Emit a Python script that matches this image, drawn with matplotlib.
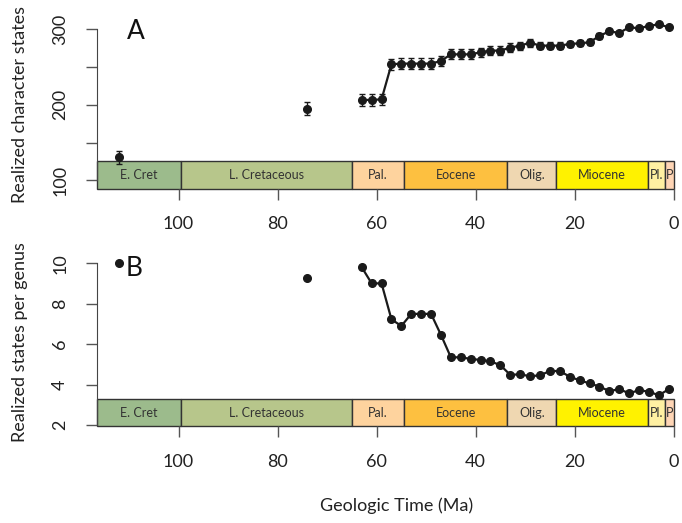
import matplotlib
matplotlib.use("Agg")
import matplotlib.pyplot as plt

plt.rcParams["font.family"] = ["Lato", "DejaVu Sans"]

# --- data --- #
ages = [63, 61, 59, 57, 55, 53, 51, 49, 47, 45, 43, 41, 39, 37, 35, 33,
        31, 29, 27, 25, 23, 21, 19, 17, 15, 13, 11, 9, 7, 5, 3, 1]

states = [206.4, 206.4, 207.2, 253.6, 254.5, 254.5, 254.5, 254.5, 258.0, 266.8,
          266.8, 266.8, 269.5, 271.7, 271.7, 275.7, 278.3, 282.3, 278.3, 278.3,
          278.3, 280.5, 281.4, 282.7, 291.1, 297.3, 295.1, 302.6, 301.3, 304.4,
          306.6, 302.6]
states_err = [7.7, 7.6, 7.5, 7.3, 7.2, 7.0, 6.9, 6.8, 6.7, 6.6, 6.5, 6.4, 6.2, 6.0,
              5.8, 5.6, 5.4, 5.2, 5.0, 4.8, 4.6, 4.4, 4.2, 4.0, 3.6, 3.2, 2.8, 2.4,
              2.0, 1.6, 1.2, 0.8]

per_genus = [9.81, 9.01, 9.01, 7.23, 6.90, 7.50, 7.50, 7.50, 6.46, 5.35, 5.35, 5.27,
             5.22, 5.15, 4.96, 4.48, 4.51, 4.41, 4.46, 4.67, 4.67, 4.39, 4.21, 4.06,
             3.90, 3.68, 3.77, 3.57, 3.72, 3.65, 3.47, 3.77]

# isolated Cretaceous samples
cret_ages = [112, 74]
cret_states = [130.5, 194.8]
cret_err = [8.8, 8.4]
cret_per_genus = [10.03, 9.29]

# geologic periods
period_names = ["E. Cret", "L. Cretaceous", "Pal.", "Eocene", "Olig.", "Miocene", "Pl.", "P"]
period_start = [116.4, 99.6, 65.0, 54.5, 33.6, 23.7, 5.25, 1.76]
period_end = [99.6, 65.0, 54.5, 33.6, 23.7, 5.25, 1.76, 0.0]
period_colors = ["#9cbb8c", "#b7c68b", "#fed39e", "#fdc040", "#efd7b1",
                 "#fff200", "#fff0a2", "#fed5b5"]

xticks = [100, 80, 60, 40, 20, 0]

# --- figure --- #
fig = plt.figure(figsize=(6.82, 5.23), dpi=100)
ax1 = fig.add_axes([0.1427, 0.6392, 0.8451, 0.3222])
ax2 = fig.add_axes([0.1427, 0.1855, 0.8451, 0.3225])

axis_col = "#444444"


def add_periods(ax, lo, hi):
    centers = [(s + e) / 2 for s, e in zip(period_start, period_end)]
    widths = [s - e for s, e in zip(period_start, period_end)]
    ax.bar(centers, [hi - lo] * len(centers), width=widths, bottom=lo,
           color=period_colors, edgecolor="#333333", linewidth=1.0,
           zorder=1, clip_on=False)
    for c, name in zip(centers, period_names):
        ax.text(c, (lo + hi) / 2, name, ha="center", va="center",
                fontsize=9, color="#333333", zorder=2)


def style_axis(ax, ylo, yhi, yticks, ylabels, ybounds):
    ax.set_xlim(116.4, 0)
    ax.set_ylim(ylo, yhi)
    for s in ["top", "right", "bottom"]:
        ax.spines[s].set_visible(False)
    ax.spines["left"].set_bounds(*ybounds)
    ax.spines["left"].set_color(axis_col)
    ax.set_xticks(xticks)
    ax.set_xticklabels([str(t) for t in xticks])
    ax.set_yticks(yticks)
    ax.set_yticklabels(ylabels, rotation=90, va="center")
    ax.tick_params(direction="out", length=8, width=1, color="#555555",
                   labelsize=13, labelcolor="#222222")
    ax.tick_params(axis="x", pad=12)
    ax.tick_params(axis="y", pad=13)


# Panel A
add_periods(ax1, 88.9, 125.2)
ax1.errorbar(cret_ages, cret_states, yerr=cret_err, fmt="o", color="#1a1a1a",
             markersize=5.5, elinewidth=1, capsize=2.5, zorder=3)
ax1.errorbar(ages, states, yerr=states_err, fmt="-o", color="#1a1a1a",
             markersize=5.5, linewidth=1.6, elinewidth=1, capsize=2.5, zorder=3)
style_axis(ax1, 88.9, 312, [100, 150, 200, 250, 300],
           ["100", "", "200", "", "300"], (100, 300))
ax1.set_ylabel("Realized character states", fontsize=13, color="#222222", va="center")
ax1.yaxis.set_label_coords(-0.134, 0.5)
ax1.text(0.066, 0.93, "A", transform=ax1.transAxes, fontsize=19,
         ha="center", va="center", color="#111111")

# Panel B
add_periods(ax2, 1.95, 3.27)
ax2.plot(cret_ages, cret_per_genus, "o", color="#1a1a1a", markersize=5.5, zorder=3)
ax2.plot(ages, per_genus, "-o", color="#1a1a1a", markersize=5.5,
         linewidth=1.6, zorder=3)
style_axis(ax2, 1.95, 10.3, [2, 4, 6, 8, 10],
           ["2", "4", "6", "8", "10"], (2, 10))
ax2.set_ylabel("Realized states per genus", fontsize=13, color="#222222", va="center")
ax2.yaxis.set_label_coords(-0.134, 0.5)
ax2.text(0.063, 0.935, "B", transform=ax2.transAxes, fontsize=19,
         ha="center", va="center", color="#111111")

fig.text(0.5817, 0.033, "Geologic Time (Ma)", ha="center", va="center",
         fontsize=13, color="#222222")

fig.savefig("out.png", dpi=100)
